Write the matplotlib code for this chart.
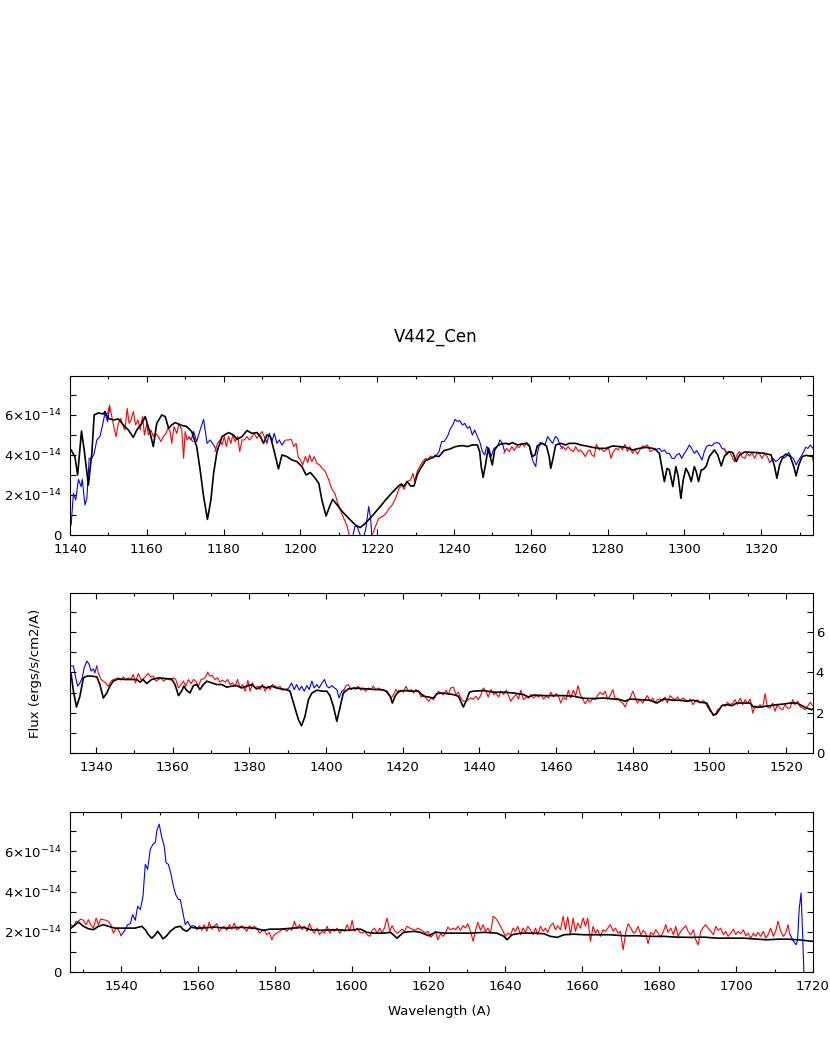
import numpy as np
import matplotlib
matplotlib.use('Agg')
import matplotlib.pyplot as plt
from matplotlib.ticker import MultipleLocator, FixedLocator, FuncFormatter

nan = float('nan')

TITLE = 'V442_Cen'
XLABEL = 'Wavelength (A)'
YLABEL = 'Flux (ergs/s/cm2/A)'

# flux values are in units of 1e-14 ergs/s/cm2/A
model_wave = [
    1140.3, 1141.3, 1142.0, 1143.0, 1143.7, 1144.8, 1145.7, 1146.3, 1147.4, 1148.7, 1149.1, 1150.0,
    1151.3, 1152.6, 1153.9, 1155.2, 1156.5, 1157.4, 1158.7, 1159.6, 1160.9, 1161.7, 1162.6, 1163.9,
    1164.8, 1165.7, 1166.5, 1167.4, 1168.7, 1170.4, 1171.7, 1173.0, 1173.9, 1174.8, 1175.8, 1176.7,
    1177.4, 1178.3, 1179.6, 1181.3, 1182.6, 1183.5, 1184.8, 1186.1, 1187.4, 1188.7, 1189.6, 1190.4,
    1191.3, 1192.2, 1193.0, 1194.3, 1195.2, 1196.5, 1197.8, 1199.1, 1200.4, 1201.5, 1202.6, 1203.9,
    1204.8, 1205.6, 1206.7, 1207.6, 1208.4, 1209.6, 1210.9, 1212.6, 1214.3, 1215.6, 1216.9, 1218.7,
    1220.4, 1222.2, 1223.9, 1225.6, 1226.3, 1226.9, 1227.8, 1228.7, 1229.6, 1230.4, 1231.3, 1232.6,
    1233.9, 1235.2, 1236.1, 1237.4, 1238.7, 1240.4, 1242.2, 1243.5, 1244.8, 1246.1, 1246.7, 1247.1,
    1247.6, 1248.2, 1248.9, 1249.3, 1250.0, 1250.6, 1251.3, 1252.2, 1253.5, 1254.3, 1255.2, 1256.5,
    1257.8, 1258.9, 1259.7, 1260.4, 1261.1, 1261.7, 1263.0, 1264.1, 1264.8, 1265.2, 1265.8, 1266.5,
    1267.8, 1269.1, 1270.0, 1271.7, 1273.0, 1274.4, 1276.1, 1277.8, 1279.6, 1281.3, 1283.1, 1284.8,
    1286.5, 1288.3, 1290.0, 1291.8, 1292.6, 1293.5, 1294.1, 1294.8, 1295.5, 1296.1, 1297.0, 1297.8,
    1298.4, 1299.1, 1299.7, 1300.4, 1301.1, 1301.8, 1302.6, 1303.1, 1303.7, 1304.4, 1305.0, 1305.7,
    1306.5, 1307.8, 1308.7, 1309.6, 1310.4, 1311.5, 1312.6, 1313.5, 1314.4, 1315.7, 1317.4, 1319.1,
    1320.9, 1322.6, 1323.5, 1324.1, 1324.8, 1325.7, 1326.5, 1327.6, 1328.5, 1329.1, 1329.8, 1330.7,
    1331.7, 1333.5, 1334.1, 1334.9, 1335.8, 1336.7, 1337.6, 1338.9, 1340.2, 1341.0, 1341.9, 1342.8,
    1343.6, 1344.5, 1345.8, 1347.6, 1349.3, 1350.6, 1351.5, 1352.3, 1353.2, 1354.5, 1356.3, 1358.0,
    1359.7, 1360.6, 1361.5, 1362.3, 1362.9, 1363.6, 1364.5, 1365.4, 1366.3, 1367.1, 1368.0, 1368.9,
    1370.2, 1371.5, 1372.8, 1374.1, 1375.4, 1376.7, 1378.0, 1379.3, 1380.6, 1381.9, 1383.2, 1384.5,
    1385.8, 1387.1, 1388.4, 1389.7, 1390.6, 1391.5, 1392.8, 1393.6, 1394.5, 1395.4, 1396.3, 1397.6,
    1398.9, 1400.2, 1401.0, 1401.9, 1402.8, 1403.6, 1404.5, 1405.8, 1407.6, 1409.3, 1411.0, 1412.8,
    1414.5, 1415.8, 1416.7, 1417.3, 1418.0, 1418.9, 1420.6, 1422.3, 1424.1, 1425.4, 1426.7, 1428.0,
    1428.9, 1430.2, 1431.5, 1433.2, 1434.5, 1435.1, 1435.8, 1436.5, 1437.4, 1438.4, 1441.0, 1443.7,
    1446.3, 1448.9, 1451.5, 1452.8, 1454.1, 1456.7, 1459.3, 1461.9, 1464.5, 1467.1, 1469.7, 1472.3,
    1475.0, 1476.7, 1478.0, 1479.3, 1481.9, 1484.5, 1486.3, 1488.0, 1490.6, 1492.3, 1494.1, 1495.8,
    1497.6, 1499.3, 1500.2, 1501.0, 1501.9, 1503.2, 1504.5, 1505.8, 1507.1, 1508.9, 1510.6, 1511.5,
    1513.2, 1515.8, 1517.6, 1519.3, 1521.0, 1522.8, 1524.1, 1525.4, 1526.7, 1527.6, 1528.9, 1530.2,
    1531.5, 1532.8, 1534.1, 1535.4, 1536.7, 1538.4, 1540.2, 1541.9, 1543.6, 1545.4, 1546.3, 1547.1,
    1548.0, 1548.9, 1549.5, 1550.2, 1550.9, 1551.7, 1552.8, 1554.1, 1555.4, 1556.2, 1557.1, 1558.2,
    1559.7, 1560.6, 1564.1, 1567.5, 1571.0, 1574.5, 1577.1, 1578.8, 1581.4, 1584.9, 1587.5, 1589.2,
    1591.8, 1595.3, 1598.8, 1600.5, 1602.3, 1604.0, 1605.7, 1608.3, 1610.1, 1611.8, 1613.5, 1616.1,
    1617.9, 1620.0, 1621.8, 1624.0, 1627.4, 1630.9, 1634.4, 1637.8, 1639.6, 1640.4, 1641.7, 1643.9,
    1647.4, 1650.0, 1651.7, 1653.5, 1655.2, 1657.8, 1660.4, 1663.9, 1667.3, 1670.8, 1674.3, 1677.8,
    1681.2, 1684.7, 1688.2, 1691.7, 1695.1, 1698.6, 1702.1, 1705.5, 1708.1, 1710.8, 1713.4, 1716.0,
    1717.7, 1720.0]
model_flux = [
    4.25, 3.9, 3.0, 5.2, 4.25, 2.5, 4.1, 6.0, 6.1, 6.05, 6.17, 5.83,
    5.75, 5.8, 5.5, 5.25, 4.88, 5.25, 5.58, 5.92, 5.08, 4.42, 5.58, 6.0,
    5.92, 5.33, 5.5, 5.62, 5.5, 5.42, 5.17, 4.42, 3.25, 1.92, 0.78, 1.75,
    3.08, 4.17, 4.92, 5.12, 5.0, 4.78, 4.92, 5.22, 5.08, 5.12, 4.92, 4.58,
    5.0, 4.92, 4.33, 3.3, 4.0, 3.92, 3.75, 3.67, 3.42, 3.0, 3.12, 2.83,
    2.58, 1.75, 0.95, 1.42, 1.78, 1.5, 1.17, 0.83, 0.5, 0.37, 0.58, 0.95,
    1.33, 1.75, 2.12, 2.45, 2.55, 2.42, 2.67, 2.45, 2.45, 3.0, 3.33, 3.72,
    3.83, 3.95, 3.92, 4.22, 4.28, 4.42, 4.47, 4.42, 4.5, 4.5, 4.17, 3.42,
    2.88, 3.5, 4.33, 4.0, 3.5, 4.25, 4.45, 4.55, 4.58, 4.53, 4.62, 4.5,
    4.55, 4.58, 4.42, 3.92, 4.0, 4.45, 4.58, 4.45, 3.92, 3.33, 3.83, 4.5,
    4.58, 4.5, 4.58, 4.58, 4.5, 4.45, 4.38, 4.33, 4.33, 4.45, 4.42, 4.38,
    4.25, 4.33, 4.38, 4.33, 4.25, 4.08, 3.42, 2.67, 3.33, 3.25, 2.42, 3.42,
    2.92, 1.83, 2.75, 3.33, 3.08, 2.67, 3.42, 3.17, 2.67, 3.25, 3.28, 3.45,
    3.92, 4.25, 4.0, 3.45, 3.92, 4.17, 4.12, 3.67, 4.0, 4.15, 4.13, 4.12,
    4.08, 4.0, 3.42, 2.83, 3.5, 3.92, 4.05, 3.92, 3.42, 2.95, 3.5, 3.92,
    3.98, 3.92, 3.07, 2.28, 2.82, 3.73, 3.82, 3.82, 3.78, 3.4, 2.73, 2.98,
    3.32, 3.57, 3.68, 3.65, 3.65, 3.65, 3.52, 3.65, 3.45, 3.65, 3.73, 3.7,
    3.68, 3.4, 2.85, 3.07, 3.32, 3.12, 2.98, 3.35, 3.4, 3.15, 3.4, 3.57,
    3.48, 3.4, 3.4, 3.27, 3.32, 3.35, 3.23, 3.32, 3.4, 3.18, 3.32, 3.23,
    3.32, 3.23, 3.18, 3.15, 3.07, 2.48, 1.65, 1.35, 1.82, 2.65, 2.98, 3.12,
    3.07, 3.07, 2.85, 2.32, 1.57, 2.23, 2.98, 3.18, 3.23, 3.2, 3.18, 3.15,
    3.15, 3.07, 2.82, 2.48, 2.82, 3.07, 3.1, 3.07, 3.07, 2.82, 2.78, 2.73,
    2.95, 2.98, 2.95, 2.9, 2.82, 2.57, 2.28, 2.57, 3.02, 3.07, 3.1, 3.02,
    3.02, 2.98, 2.9, 2.78, 2.88, 2.85, 2.85, 2.85, 2.82, 2.72, 2.7, 2.73,
    2.68, 2.65, 2.57, 2.68, 2.65, 2.62, 2.48, 2.68, 2.62, 2.62, 2.57, 2.62,
    2.52, 2.48, 2.15, 1.87, 1.95, 2.35, 2.4, 2.35, 2.48, 2.48, 2.48, 2.28,
    2.28, 2.35, 2.4, 2.43, 2.48, 2.48, 2.35, 2.23, 2.15, 2.27, 2.48, 2.27,
    2.15, 2.1, 2.27, 2.35, 2.27, 2.18, 2.18, 2.18, 2.18, 2.27, 2.1, 1.85,
    1.68, 1.85, 2.02, 1.85, 1.65, 1.77, 2.02, 2.22, 2.27, 2.1, 2.02, 2.22,
    2.18, 2.18, 2.23, 2.18, 2.22, 2.18, 2.07, 2.13, 2.13, 2.18, 2.22, 2.1,
    2.07, 2.1, 2.07, 2.1, 2.13, 1.97, 1.93, 1.93, 1.97, 1.68, 1.97, 2.02,
    1.97, 1.8, 1.98, 1.93, 1.93, 1.93, 1.97, 1.93, 1.77, 1.6, 1.85, 1.93,
    1.93, 1.9, 1.77, 1.72, 1.85, 1.88, 1.85, 1.85, 1.85, 1.8, 1.8, 1.77,
    1.77, 1.73, 1.72, 1.73, 1.68, 1.68, 1.68, 1.63, 1.6, 1.63, 1.63, 1.6,
    1.57, 1.52]

red_wave = [
    1149.8, 1150.3, 1150.9, 1151.5, 1152.0, 1152.6, 1153.2, 1153.9, 1154.3, 1154.9, 1155.4, 1155.9,
    1156.5, 1157.1, 1157.7, 1158.3, 1158.9, 1159.4, 1160.0, 1160.4, 1161.1, 1161.7, 1162.3, 1163.0,
    1163.7, 1164.3, 1165.0, 1165.5, 1166.1, 1166.5, 1167.1, 1167.8, 1168.4, 1169.1, 1169.6, 1170.0,
    1170.5, 1171.0, 1171.6, 1172.1, nan,
    1177.8, 1178.4, 1179.1, 1179.6, 1180.2, 1180.7, 1181.3, 1181.9, 1182.4, 1183.0, 1183.7, 1184.2,
    1184.8, 1185.4, 1186.1, 1186.7, 1187.4, 1188.0, 1188.7, 1189.3, 1190.0, 1190.6, 1191.2, nan,
    1195.7, 1196.3, 1197.0, 1197.6, 1198.3, 1198.9, 1199.4, 1200.0, 1200.6, 1201.3, 1201.9, 1202.4,
    1203.0, 1203.6, 1204.3, 1205.0, 1205.7, 1206.5, 1207.4, 1208.3, 1209.0, 1209.6, 1210.4, 1211.3,
    1212.2, 1212.8, 1213.5, 1214.5, 1216.5, 1217.9, 1218.9, 1219.6, 1220.4, 1221.3, 1222.2, 1223.1,
    1223.9, 1224.8, 1225.7, 1226.4, 1227.0, 1227.8, 1228.7, 1229.3, 1229.8, 1230.4, 1231.3, 1231.9,
    1232.6, 1233.2, 1233.9, 1234.5, 1235.1, nan,
    1253.0, 1253.7, 1254.4, 1255.1, 1255.7, 1256.3, 1257.0, 1257.7, 1258.3, 1258.9, nan,
    1267.8, 1268.4, 1269.1, 1269.7, 1270.4, 1271.1, 1271.7, 1272.4, 1273.0, 1273.7, 1274.2, 1274.8,
    1275.4, 1275.9, 1276.5, 1277.1, 1277.8, 1278.4, 1279.0, 1279.6, 1280.3, 1280.9, 1281.5, 1282.2,
    1282.8, 1283.3, 1283.9, 1284.5, 1285.2, 1285.8, 1286.5, 1287.1, 1287.8, 1288.4, 1289.1, 1289.7,
    1290.4, 1291.1, 1291.8, 1292.4, nan,
    1310.4, 1311.05, 1311.7, 1312.4, 1313.05, 1313.7, 1314.4, 1315.0, 1315.7, 1316.3, 1317.0, 1317.6,
    1318.3, 1318.9, 1319.6, 1320.2, 1320.9, 1321.6, 1322.2, nan,
    1340.2, 1340.6, 1341.3, 1341.9, 1342.5, 1343.2, 1343.9, 1344.5, 1345.1, 1345.8, 1346.5, 1347.1,
    1347.7, 1348.4, 1349.1, 1349.7, 1350.3, 1351.0, 1351.7, 1352.3, 1353.0, 1353.6, 1354.3, 1354.9,
    1355.6, 1356.3, 1356.9, 1357.6, 1358.2, 1358.9, 1359.6, 1360.2, 1360.8, 1361.5, 1362.2, 1362.8,
    1363.4, 1364.1, 1364.8, 1365.4, 1366.0, 1366.7, 1367.4, 1368.0, 1368.6, 1369.1, 1369.7, 1370.3,
    1371.0, 1371.7, 1372.3, 1372.9, 1373.7, 1374.3, 1375.0, 1375.6, 1376.3, 1376.9, 1377.6, 1378.2,
    1378.9, 1379.6, 1380.2, 1380.8, 1381.5, 1382.2, 1382.8, 1383.4, 1384.1, 1384.8, 1385.4, 1386.0,
    1386.7, 1387.4, 1388.0, 1388.6, 1389.3, 1390.0, nan,
    1404.5, 1405.1, 1405.8, 1406.5, 1407.1, 1407.7, 1408.4, 1409.1, 1409.7, 1410.3, 1411.0, 1411.7,
    1412.3, 1413.0, 1413.7, 1414.3, 1414.9, 1415.6, 1416.3, 1417.0, 1417.6, 1418.2, 1418.9, 1419.6,
    1420.2, 1420.8, 1421.5, 1422.2, 1422.8, 1423.4, 1424.1, 1424.8, 1425.4, 1426.0, 1426.7, 1427.4,
    1428.0, 1428.6, 1429.3, 1430.0, 1430.6, 1431.3, 1431.9, 1432.5, 1433.2, 1433.9, 1434.5, 1435.1,
    1435.8, 1436.5, 1437.1, 1437.7, 1438.4, 1439.1, 1439.7, 1440.3, 1441.0, 1441.7, 1442.3, 1443.0,
    1443.7, 1444.3, 1445.0, 1445.6, 1446.3, 1447.0, 1447.6, 1448.2, 1448.9, 1449.6, 1450.2, 1450.8,
    1451.5, 1452.2, 1452.8, 1453.4, 1454.1, 1454.8, 1455.4, 1456.0, 1456.7, 1457.4, 1458.0, 1458.6,
    1459.3, 1460.0, 1460.6, 1461.2, 1461.9, 1462.6, 1463.2, 1463.8, 1464.5, 1465.1, 1465.7, 1466.3,
    1466.9, 1467.6, 1468.2, 1468.9, 1469.6, 1470.2, 1470.8, 1471.5, 1472.2, 1472.8, 1473.4, 1474.1,
    1474.8, 1475.4, 1476.0, 1476.7, 1477.4, 1478.0, 1478.6, 1479.3, 1480.0, 1480.6, 1481.2, 1481.9,
    1482.6, 1483.2, 1483.8, 1484.5, 1485.2, 1485.8, 1486.4, 1487.1, 1487.8, 1488.4, 1489.0, 1489.7,
    1490.4, 1491.0, 1491.7, 1492.3, 1493.0, 1493.7, 1494.3, 1495.0, 1495.7, 1496.3, 1496.9, 1497.6,
    1498.3, 1498.9, 1499.5, 1500.2, 1500.9, 1501.5, 1502.1, 1502.8, 1503.5, 1504.1, 1504.7, 1505.4,
    1506.1, 1506.7, 1507.3, 1508.0, 1508.7, 1509.3, 1509.9, 1510.6, 1511.3, 1511.9, 1512.5, 1513.2,
    1513.9, 1514.5, 1515.1, 1515.8, 1516.5, 1517.1, 1517.7, 1518.4, 1519.1, 1519.7, 1520.3, 1521.0,
    1521.7, 1522.3, 1523.0, 1523.7, 1524.3, 1525.0, 1525.6, 1526.3, 1526.9, 1527.6, 1528.3, 1528.9,
    1529.5, 1530.2, 1530.9, 1531.5, 1532.1, 1532.8, 1533.5, 1534.1, 1534.7, 1535.4, 1536.1, 1536.7,
    1537.3, 1538.0, 1538.7, 1539.3, 1539.9, nan,
    1559.7, 1560.4, 1561.0, 1561.6, 1562.3, 1562.9, 1563.6, 1564.2, 1564.9, 1565.5, 1566.2, 1566.8,
    1567.5, 1568.2, 1568.8, 1569.4, 1570.1, 1570.8, 1571.4, 1572.0, 1572.7, 1573.4, 1574.0, 1574.6,
    1575.3, 1576.0, 1576.6, 1577.2, 1577.9, 1578.6, 1579.2, 1579.8, 1580.5, 1581.2, 1581.8, 1582.5,
    1583.1, 1583.8, 1584.4, 1585.1, 1585.7, 1586.4, 1587.1, 1587.7, 1588.4, 1589.0, 1589.7, 1590.3,
    1591.0, 1591.6, 1592.3, 1592.9, 1593.6, 1594.3, 1594.9, 1595.5, 1596.2, 1596.9, 1597.5, 1598.1,
    1598.8, 1599.5, 1600.1, 1600.7, 1601.4, 1602.1, 1602.7, 1603.3, 1604.0, 1604.7, 1605.3, 1605.9,
    1606.6, 1607.3, 1607.9, 1608.5, 1609.2, 1609.9, 1610.5, 1611.1, 1611.8, 1612.5, 1613.1, 1613.7,
    1614.4, 1615.1, 1616.6, 1617.2, 1617.9, 1618.6, 1619.2, 1619.8, 1620.5, 1621.2, 1621.8, 1622.4,
    1623.1, 1623.8, 1624.4, 1625.0, 1625.7, 1626.4, 1627.0, 1627.6, 1628.3, 1629.0, 1629.6, 1630.2,
    1630.9, 1631.6, 1632.2, 1632.8, 1633.5, 1634.2, 1634.8, 1635.4, 1636.1, 1636.8, 1637.4, 1638.0,
    1638.7, 1639.4, 1640.0, 1640.6, 1641.3, 1642.0, 1642.6, 1643.2, 1643.9, 1644.6, 1645.2, 1645.8,
    1646.5, 1647.2, 1647.8, 1648.4, 1649.1, 1649.8, 1650.4, 1651.0, 1651.7, 1652.4, 1653.0, 1653.6,
    1654.3, 1655.0, 1655.6, 1656.2, 1656.9, 1657.6, 1658.2, 1658.8, 1659.5, 1660.2, 1660.8, 1661.4,
    1662.1, 1662.8, 1663.4, 1664.0, 1664.7, 1665.4, 1666.0, 1666.6, 1667.3, 1668.0, 1668.6, 1669.3,
    1669.9, 1670.6, 1671.3, 1671.9, 1672.6, 1673.3, 1673.9, 1674.5, 1675.2, 1675.9, 1676.5, 1677.1,
    1677.8, 1678.5, 1679.1, 1679.7, 1680.4, 1681.1, 1681.7, 1682.3, 1683.0, 1683.7, 1684.3, 1684.9,
    1685.6, 1686.3, 1686.9, 1687.5, 1688.2, 1688.9, 1689.5, 1690.1, 1690.8, 1691.5, 1692.1, 1692.7,
    1693.4, 1694.1, 1694.7, 1695.3, 1696.0, 1696.7, 1697.3, 1697.9, 1698.6, 1699.3, 1699.9, 1700.5,
    1701.2, 1701.9, 1702.5, 1703.1, 1703.8, 1704.5, 1705.1, 1705.7, 1706.4, 1707.1, 1707.7, 1708.3,
    1709.0, 1709.7, 1710.3, 1710.9, 1711.6, 1712.3, 1712.9, 1713.5, 1714.0]
red_flux = [
    6.08, 6.5, 5.92, 5.33, 4.92, 5.58, 5.83, 5.42, 5.25, 6.33, 5.58, 5.75,
    6.17, 5.5, 5.75, 5.25, 5.92, 5.0, 5.58, 5.0, 5.25, 4.92, 5.08, 4.92,
    4.67, 4.92, 5.08, 5.33, 5.17, 4.58, 5.42, 5.08, 5.58, 5.25, 3.83, 5.17,
    4.75, 4.92, 4.75, 4.67, nan,
    4.17, 4.58, 4.75, 4.5, 4.92, 4.42, 4.92, 4.58, 5.0, 4.67, 4.92, 4.17,
    4.75, 4.75, 4.92, 4.75, 4.92, 5.08, 4.83, 5.0, 5.17, 4.92, 4.67, nan,
    4.67, 4.75, 4.75, 4.78, 4.42, 4.58, 3.92, 3.75, 3.5, 3.92, 3.62, 4.0,
    3.67, 3.92, 3.58, 3.5, 3.33, 3.17, 2.75, 2.25, 2.08, 1.67, 1.25, 0.83,
    0.42, -0.08, -0.5, -1.0, -1.0, -0.3, 0.08, 0.45, 0.83, 0.92, 1.05, 1.33,
    1.5, 1.83, 2.33, 2.5, 2.28, 2.67, 2.75, 3.08, 2.67, 3.17, 3.5, 3.67,
    3.83, 3.75, 3.95, 3.83, 4.0, nan,
    4.08, 4.33, 4.17, 4.42, 4.22, 4.42, 4.38, 4.58, 4.42, 4.62, nan,
    4.33, 4.42, 4.25, 4.42, 4.25, 4.17, 4.42, 4.17, 4.25, 4.08, 3.92, 4.17,
    4.25, 4.0, 3.92, 4.53, 4.25, 4.33, 4.17, 4.25, 4.33, 3.83, 4.17, 4.33,
    4.25, 4.42, 4.25, 4.53, 4.17, 4.42, 4.08, 4.28, 4.05, 4.25, 4.45, 4.42,
    4.5, 4.17, 4.25, 4.28, nan,
    4.33, 4.0, 4.17, 3.92, 3.67, 4.0, 4.17, 3.92, 3.83, 4.08, 3.95, 4.12,
    3.83, 4.08, 4.05, 3.83, 4.05, 3.92, 3.62, nan,
    4.32, 3.98, 3.65, 3.57, 3.48, 3.32, 3.57, 3.65, 3.68, 3.73, 3.62, 3.78,
    3.65, 3.73, 3.65, 3.9, 3.48, 3.95, 3.65, 3.68, 3.82, 3.95, 3.78, 3.82,
    3.57, 3.65, 3.73, 3.57, 3.68, 3.65, 3.62, 3.73, 3.65, 3.23, 3.4, 3.57,
    3.32, 3.65, 3.45, 3.65, 3.57, 3.32, 3.65, 3.68, 3.78, 4.02, 3.82, 3.85,
    3.65, 3.73, 3.52, 3.62, 3.52, 3.65, 3.4, 3.48, 3.32, 3.65, 3.23, 3.4,
    3.07, 3.6, 3.07, 3.48, 3.23, 3.32, 3.15, 3.4, 3.07, 3.32, 3.15, 3.4,
    3.32, 3.23, 3.32, 3.12, 3.15, 3.12, nan,
    3.07, 3.32, 3.4, 3.15, 3.23, 3.15, 3.32, 3.12, 3.23, 3.07, 3.23, 3.15,
    3.32, 3.15, 3.23, 3.12, 3.15, 3.07, 2.9, 2.73, 2.9, 3.15, 2.98, 3.12,
    3.02, 3.32, 3.07, 3.15, 2.98, 3.15, 3.07, 2.78, 2.9, 2.73, 2.57, 2.73,
    2.65, 2.82, 3.07, 2.95, 2.9, 3.12, 2.9, 3.23, 3.27, 2.9, 3.02, 2.73,
    2.57, 2.57, 2.65, 2.73, 2.68, 2.82, 2.65, 2.85, 3.23, 3.07, 2.78, 3.15,
    2.9, 2.98, 2.78, 3.07, 2.9, 3.12, 2.85, 2.57, 2.78, 2.9, 2.68, 3.12,
    2.65, 2.78, 2.73, 2.9, 2.73, 2.85, 2.78, 2.9, 2.68, 2.82, 2.73, 3.02,
    2.78, 2.95, 2.82, 2.48, 2.78, 2.65, 3.12, 2.73, 3.12, 2.85, 3.35, 2.9,
    2.68, 2.45, 2.65, 2.52, 2.73, 2.65, 2.85, 3.02, 2.9, 3.07, 2.68, 2.85,
    3.15, 2.65, 2.73, 2.57, 2.48, 2.28, 2.57, 2.73, 3.07, 2.78, 2.48, 2.65,
    2.48, 2.68, 2.85, 2.57, 2.73, 2.48, 2.65, 2.68, 2.57, 2.78, 2.48, 2.85,
    2.73, 2.65, 2.78, 2.57, 2.73, 2.65, 2.57, 2.68, 2.4, 2.57, 2.65, 2.48,
    2.6, 2.52, 2.28, 2.07, 1.95, 1.9, 2.15, 2.23, 2.4, 2.32, 2.52, 2.4,
    2.48, 2.65, 2.4, 2.73, 2.4, 2.65, 2.48, 2.68, 1.98, 2.35, 2.23, 2.4,
    2.28, 2.95, 2.28, 2.23, 2.48, 2.07, 2.4, 2.23, 2.15, 2.4, 2.23, 2.23,
    2.65, 2.4, 2.57, 2.28, 2.23, 2.15, 2.32, 2.52, 2.35, 2.27, 2.52, 2.52,
    2.63, 2.57, 2.35, 2.6, 2.35, 2.18, 2.68, 2.35, 2.63, 2.6, 2.57, 2.52,
    2.35, 1.93, 2.18, 2.1, 1.85, nan,
    2.1, 2.3, 2.07, 2.35, 2.02, 2.47, 2.13, 2.27, 2.4, 2.02, 2.18, 2.27,
    2.07, 2.35, 2.13, 2.43, 2.1, 2.18, 2.3, 2.18, 2.02, 2.3, 2.13, 2.27,
    2.18, 1.93, 2.02, 2.1, 1.85, 1.97, 1.6, 1.85, 1.93, 2.02, 2.1, 2.13,
    2.02, 2.18, 2.07, 2.52, 2.18, 2.35, 2.1, 2.27, 2.02, 2.4, 2.07, 1.93,
    2.18, 1.85, 2.02, 1.93, 2.27, 1.93, 2.1, 2.02, 2.18, 1.93, 2.1, 2.02,
    2.35, 2.02, 2.57, 2.02, 2.18, 1.97, 1.93, 2.02, 1.85, 1.77, 2.07, 2.18,
    1.93, 2.18, 1.93, 2.18, 2.68, 2.02, 2.3, 2.07, 1.93, 2.02, 2.13, 2.02,
    2.27, 2.18, 2.07, 2.18, 2.1, 2.02, 1.93, 2.02, 1.73, 1.85, 2.02, 1.6,
    1.9, 1.77, 1.93, 2.23, 2.1, 2.18, 2.1, 2.27, 2.07, 2.3, 2.18, 2.4,
    2.02, 1.52, 2.07, 2.47, 2.07, 2.35, 2.02, 2.18, 1.93, 2.77, 2.68, 2.52,
    2.27, 2.02, 1.77, 1.93, 1.85, 2.18, 2.02, 2.27, 1.85, 2.18, 1.97, 2.27,
    2.1, 1.85, 2.18, 1.85, 2.27, 2.02, 2.18, 1.97, 2.3, 2.43, 2.1, 2.3,
    2.1, 2.77, 2.1, 2.73, 1.85, 2.68, 2.02, 2.43, 2.18, 2.68, 2.27, 2.68,
    1.52, 2.27, 1.93, 2.1, 1.77, 2.1, 2.02, 2.18, 2.35, 2.02, 2.18, 1.93,
    2.02, 1.1, 1.97, 2.4, 2.18, 1.93, 2.02, 2.27, 1.85, 2.07, 1.93, 1.4,
    1.97, 1.85, 2.1, 1.93, 1.73, 2.02, 2.35, 1.97, 2.18, 1.85, 2.27, 1.77,
    2.02, 2.18, 2.3, 2.02, 1.85, 2.1, 1.6, 1.35, 2.02, 2.23, 2.35, 2.18,
    2.02, 1.85, 2.27, 2.07, 2.18, 1.85, 2.02, 1.77, 1.93, 2.13, 1.85, 2.02,
    1.9, 2.1, 1.8, 1.93, 1.68, 1.93, 1.77, 1.97, 1.77, 2.02, 1.68, 1.85,
    2.18, 1.77, 2.02, 2.52, 2.02, 1.77, 1.93, 2.35, 1.85]

blue_wave = [
    1140.3, 1140.9, 1141.5, 1142.2, 1142.9, 1143.2, 1143.9, 1144.4, 1145.0, 1145.7, 1146.3, 1147.0,
    1147.8, 1148.4, 1149.1, 1149.8, 1150.3, nan,
    1171.0, 1171.6, 1172.2, 1173.0, 1173.9, 1174.8, 1175.7, 1176.5, 1177.4, 1178.0, nan,
    1190.9, 1191.3, 1191.9, 1192.6, 1193.2, 1193.9, 1194.5, 1195.2, 1195.8, nan,
    1212.8, 1213.5, 1214.2, 1214.8, 1215.4, 1216.1, 1217.0, 1217.8, 1218.3, 1218.7, 1219.0, nan,
    1235.2, 1236.1, 1236.8, 1237.4, 1238.3, 1239.1, 1239.7, 1240.3, 1240.9, 1241.5, 1242.2, 1242.8,
    1243.5, 1244.1, 1244.8, 1245.4, 1246.1, 1246.7, 1247.4, 1248.0, 1248.5, 1249.1, 1249.7, 1250.4,
    1251.3, 1252.0, 1252.6, 1253.2, nan,
    1258.9, 1259.6, 1260.0, 1260.6, 1261.3, 1261.7, 1262.4, 1263.1, 1263.7, 1264.4, 1265.0, 1265.7,
    1266.4, 1267.0, 1267.6, 1268.3, nan,
    1292.2, 1292.8, 1293.5, 1294.1, 1294.8, 1295.4, 1296.1, 1296.8, 1297.4, 1298.0, 1298.7, 1299.3,
    1300.0, 1300.6, 1301.3, 1301.9, 1302.6, 1303.2, 1303.9, 1304.6, 1305.2, 1305.8, 1306.5, 1307.1,
    1307.8, 1308.4, 1309.1, 1309.8, 1310.4, 1310.9, nan,
    1322.2, 1323.1, 1323.8, 1324.4, 1325.2, 1325.8, 1326.5, 1327.2, 1327.8, 1328.4, 1329.1, 1329.8,
    1330.4, 1331.1, 1331.6, 1332.2, 1332.8, 1333.5, 1334.1, 1334.7, 1335.2, 1335.8, 1336.4, 1336.9,
    1337.6, 1338.2, 1338.7, 1339.3, 1339.7, 1340.2, nan,
    1389.7, 1390.3, 1391.0, 1391.7, 1392.3, 1393.0, 1393.6, 1394.3, 1395.0, 1395.6, 1396.3, 1396.9,
    1397.6, 1398.2, 1398.9, 1399.6, 1400.2, 1400.8, 1401.5, 1402.2, 1402.8, 1403.4, 1404.1, 1404.8, nan,
    1539.9, 1540.8, 1541.7, 1542.4, 1543.0, 1543.7, 1544.3, 1545.0, 1545.7, 1546.3, 1546.9, 1547.6,
    1548.3, 1548.9, 1549.3, 1549.9, 1550.6, 1551.2, 1551.7, 1552.3, 1552.9, 1553.6, 1554.2, 1554.9,
    1555.4, 1556.0, 1556.7, 1557.3, 1558.0, 1558.7, 1559.3, 1559.9, nan,
    1714.1, 1714.7, 1715.6, 1716.0, 1716.4, 1716.9, 1717.3, 1717.7, 1718.0]
blue_flux = [
    0.5, 2.08, 1.75, 2.78, 2.42, 2.78, 1.5, 1.83, 3.83, 3.83, 4.08, 4.75,
    4.92, 5.42, 6.08, 5.67, 6.3, nan,
    4.85, 4.75, 5.17, 4.67, 5.25, 5.78, 4.58, 4.75, 4.5, 4.3, nan,
    4.8, 4.58, 5.08, 4.67, 5.08, 4.58, 4.75, 4.5, 4.65, nan,
    -0.5, -0.2, 0.42, 0.42, 0.08, -0.3, 0.25, 1.42, 0.83, -0.3, -0.6, nan,
    3.92, 4.17, 4.67, 4.67, 4.92, 5.33, 5.5, 5.78, 5.67, 5.72, 5.5, 5.58,
    5.33, 5.42, 5.0, 5.25, 4.92, 4.67, 4.17, 4.0, 4.42, 4.33, 3.92, 4.33,
    4.42, 4.75, 4.58, 4.17, nan,
    4.62, 4.5, 4.08, 3.67, 3.42, 4.08, 4.62, 4.58, 4.5, 4.92, 4.75, 4.58,
    4.92, 4.83, 4.5, 4.33, nan,
    4.33, 4.28, 4.33, 4.17, 4.25, 4.08, 4.08, 3.83, 3.83, 4.0, 4.08, 3.83,
    4.08, 4.25, 4.5, 4.33, 4.08, 4.22, 4.0, 3.75, 4.17, 4.42, 4.5, 4.45,
    4.58, 4.62, 4.58, 4.33, 4.28, 4.17, nan,
    3.62, 3.83, 3.67, 3.75, 3.92, 3.83, 3.92, 4.12, 3.92, 3.83, 3.5, 3.75,
    3.92, 4.17, 4.38, 4.33, 4.5, 4.33, 4.32, 3.73, 3.32, 3.48, 3.73, 4.23,
    4.57, 4.4, 4.07, 4.18, 3.98, 4.32, nan,
    3.15, 3.23, 3.48, 3.15, 3.4, 3.12, 3.32, 3.07, 3.35, 3.15, 3.57, 3.23,
    3.4, 3.23, 3.48, 3.65, 3.32, 3.23, 3.35, 3.23, 3.15, 2.73, 3.07, 3.15, nan,
    1.8, 2.02, 2.35, 2.4, 2.85, 2.57, 3.27, 3.1, 3.77, 5.35, 5.1, 6.1,
    6.35, 6.43, 7.02, 7.35, 6.68, 6.27, 5.43, 5.35, 4.93, 4.27, 3.85, 3.6,
    3.6, 3.02, 2.35, 2.52, 2.27, 2.3, 2.27, 2.13, nan,
    1.85, 1.6, 1.35, 1.6, 3.1, 3.93, 1.93, -0.4, -1.0]

# wavelength window of each panel
panel_xlim = [(1140.0, 1333.5), (1333.2, 1527.0), (1526.7, 1720.0)]
panel_xticks = [range(1140, 1340, 20), range(1340, 1530, 20), range(1540, 1730, 20)]


def sci_label(v, pos):
    if abs(v) < 1e-9:
        return '0'
    return r'$%d{\times}10^{-14}$' % round(v)


def style_axis(ax, i):
    ax.set_xlim(*panel_xlim[i])
    ax.set_ylim(0, 7.95)
    ax.xaxis.set_major_locator(FixedLocator(list(panel_xticks[i])))
    ax.xaxis.set_minor_locator(MultipleLocator(10))
    ax.yaxis.set_major_locator(FixedLocator([0, 2, 4, 6]))
    ax.yaxis.set_minor_locator(FixedLocator([1, 3, 5, 7]))
    ax.tick_params(which='both', direction='in', top=True, right=True,
                   labelsize=9.5, width=0.8, color='black')
    ax.tick_params(which='major', length=4)
    ax.tick_params(which='minor', length=2.5)
    ax.tick_params(axis='y', which='minor', length=4)
    ax.tick_params(axis='x', pad=6)
    for s in ax.spines.values():
        s.set_linewidth(0.8)
    if i == 1:
        # middle panel: numbers only on the right side
        ax.tick_params(axis='y', labelleft=False, labelright=True, pad=2)
    else:
        ax.yaxis.set_major_formatter(FuncFormatter(sci_label))
        ax.tick_params(axis='y', pad=6)


def main():
    fig = plt.figure(figsize=(8.3, 10.42), dpi=100)
    boxes = [[0.0843, 0.4866, 0.8952, 0.1526],
             [0.0843, 0.2774, 0.8952, 0.1535],
             [0.0843, 0.0672, 0.8952, 0.1535]]

    for i, box in enumerate(boxes):
        ax = fig.add_axes(box)
        ax.plot(blue_wave, blue_flux, color='#0000ff', lw=0.8)
        ax.plot(red_wave, red_flux, color='#ff0000', lw=0.8)
        ax.plot(model_wave, model_flux, color='black', lw=1.2)
        style_axis(ax, i)

    fig.text(0.525, 0.677, TITLE, ha='center', va='center', fontsize=12)
    fig.text(0.53, 0.029, XLABEL, ha='center', va='center', fontsize=9.5)
    fig.text(0.043, 0.354, YLABEL, ha='center', va='center', rotation=90, fontsize=9.5)

    fig.savefig('out.png', dpi=100)


if __name__ == '__main__':
    main()
